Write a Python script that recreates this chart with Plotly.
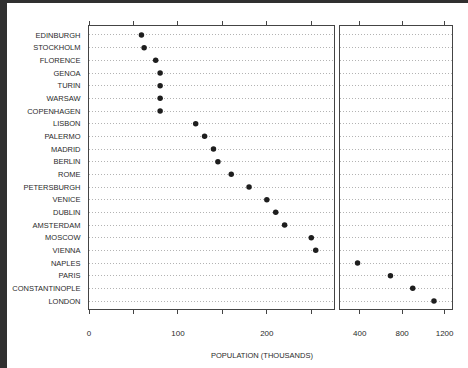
import plotly.graph_objects as go

cities = ["EDINBURGH", "STOCKHOLM", "FLORENCE", "GENOA", "TURIN", "WARSAW",
          "COPENHAGEN", "LISBON", "PALERMO", "MADRID", "BERLIN", "ROME",
          "PETERSBURGH", "VENICE", "DUBLIN", "AMSTERDAM", "MOSCOW", "VIENNA",
          "NAPLES", "PARIS", "CONSTANTINOPLE", "LONDON"]
population = [59, 62, 75, 80, 80, 80, 80, 120, 130, 140, 145, 160,
              180, 200, 210, 220, 250, 255, 380, 690, 900, 1100]
left_ticks = [0, 50, 100, 150, 200, 250]
left_ticktext = ["0", "", "100", "", "200", ""]
right_ticks = [400, 800, 1200]
right_ticktext = ["400", "800", "1200"]
x_title = "POPULATION (THOUSANDS)"
break_at = 300

W, H = 468, 368
L, R, T, B = 89, 16, 26, 59
pw, ph = W - L - R, H - T - B

idx = list(range(len(cities)))
left_x = [v if v < break_at else None for v in population]
right_x = [v if v >= break_at else None for v in population]

FONT = "Liberation Sans, Arial, sans-serif"
INK = "#2a2a2a"
FRAME = "#444444"
GRID = "#b3b3b3"

fig = go.Figure()
mk = dict(color="#1e1e1e", size=5.5)
fig.add_trace(go.Scatter(x=left_x, y=idx, mode="markers", marker=mk,
                         xaxis="x", yaxis="y", showlegend=False))
fig.add_trace(go.Scatter(x=right_x, y=idx, mode="markers", marker=mk,
                         xaxis="x2", yaxis="y2", showlegend=False))

xcommon = dict(showline=True, linecolor=FRAME, linewidth=1, mirror="ticks",
               ticks="outside", ticklen=4, tickwidth=1, tickcolor=FRAME,
               showgrid=False, zeroline=False, ticklabelstandoff=12,
               tickfont=dict(family=FONT, size=8, color=INK))
ycommon = dict(range=[21.63, -0.71], tickvals=idx, showline=True,
               linecolor=FRAME, linewidth=1, mirror=True, ticks="",
               showgrid=True, gridcolor=GRID, gridwidth=1, griddash="1px,2px",
               zeroline=False)

left_end = (333.5 - L) / pw
right_start = (339.5 - L) / pw

fig.update_layout(
    width=W, height=H, autosize=False,
    margin=dict(l=L, r=R, t=T, b=B),
    paper_bgcolor="white", plot_bgcolor="white",
    xaxis=dict(domain=[0, left_end], range=[0, 275], tickvals=left_ticks,
               ticktext=left_ticktext, anchor="y", **xcommon),
    xaxis2=dict(domain=[right_start, 1], range=[210, 1270], tickvals=right_ticks,
                ticktext=right_ticktext, anchor="y2", **xcommon),
    yaxis=dict(anchor="x", ticktext=cities, ticklabelstandoff=6,
               tickfont=dict(family=FONT, size=7.5, color=INK), **ycommon),
    yaxis2=dict(anchor="x2", showticklabels=False, **ycommon),
    annotations=[dict(text=x_title, xref="paper", yref="paper",
                      x=(262 - L) / pw, y=(T + ph - 355) / ph,
                      xanchor="center", yanchor="middle", showarrow=False,
                      font=dict(family=FONT, size=7.5, color=INK))],
    shapes=[
        dict(type="rect", xref="paper", yref="paper", layer="above",
             x0=(0 - L) / pw, x1=(7 - L) / pw,
             y0=(T + ph - H) / ph, y1=(T + ph) / ph,
             fillcolor="#303030", line=dict(width=0)),
        dict(type="rect", xref="paper", yref="paper", layer="above",
             x0=(0 - L) / pw, x1=(W - L) / pw,
             y0=(T + ph - 3) / ph, y1=(T + ph) / ph,
             fillcolor="#303030", line=dict(width=0)),
    ],
)

fig.write_html("out.html")
